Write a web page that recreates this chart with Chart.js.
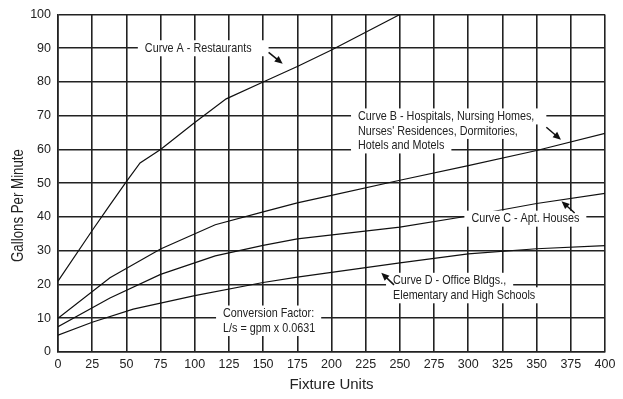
<!DOCTYPE html>
<html>
<head>
<meta charset="utf-8">
<script src="https://cdn.jsdelivr.net/npm/chart.js@4/dist/chart.umd.min.js"></script>
<style>
  html, body { margin: 0; padding: 0; background: #fff; }
</style>
</head>
<body>
<canvas id="chart" width="623" height="399"></canvas>
<script>
const FONT = '"Liberation Sans", Arial, sans-serif'
const NARROW = 0.83   // squeeze for the condensed look of the original lettering

// fixture units / gallons per minute
const curveAUnits = [0, 25, 37, 50, 60, 75, 100, 123, 150, 175, 200, 250]
const curveAGpm   = [21, 36, 43, 50.5, 56, 60, 68, 75, 80, 84.6, 89.5, 100]
const curveBUnits = [0, 38, 75, 115, 150, 175, 200, 250, 300, 350, 400]
const curveBGpm   = [10, 22, 30.5, 37.7, 41.5, 44.2, 46.4, 50.9, 55.2, 59.7, 64.8]
const curveCUnits = [0, 38, 75, 115, 150, 175, 250, 300, 350, 400]
const curveCGpm   = [7.5, 16, 23, 28.5, 31.6, 33.5, 37, 40.3, 44, 47]
const curveDUnits = [0, 25, 55, 100, 150, 175, 250, 300, 350, 400]
const curveDGpm   = [5, 8.8, 12.7, 16.7, 20.6, 22.2, 26.4, 29.1, 30.6, 31.5]

const xTickValues = [0, 25, 50, 75, 100, 125, 150, 175, 200, 225, 250, 275, 300, 325, 350, 375, 400]
const yTickValues = [0, 10, 20, 30, 40, 50, 60, 70, 80, 90, 100]

const yTitle = 'Gallons Per Minute'
const yTitleAt = 43.4   // gpm value at the middle of the title

// callout texts, anchored in data units (left edge, first line middle)
const noteTexts = [
    ['Curve A - Restaurants'],
    ['Curve B - Hospitals, Nursing Homes,', "Nurses' Residences, Dormitories,", 'Hotels and Motels'],
    ['Curve C - Apt. Houses'],
    ['Curve D - Office Bldgs.,', 'Elementary and High Schools'],
    ['Conversion Factor:', 'L/s = gpm x 0.0631']
]
const noteAt = [[63.5, 90], [219.4, 69.8], [302.3, 39.5], [245, 21.1], [120.7, 11.4]]
// arrows: [fromX, fromY, toX, toY] in data units, head at "to"
const noteArrows = [[154, 88.8, 164.3, 85.4], [357.1, 66.6, 367.8, 62.9], [377.8, 41.2, 368.2, 44.7], [245.7, 19.9, 236.4, 23.5], null]

function pts(xs, ys) {
    return xs.map((v, i) => ({ x: v, y: ys[i] }))
}

function curve(xs, ys) {
    return {
        data: pts(xs, ys),
        showLine: true,
        borderColor: '#111',
        borderWidth: 1.2,
        pointRadius: 0,
        tension: 0,
        fill: false
    }
}

const notesPlugin = {
    id: 'notes',
    afterDraw(chart) {
        const { ctx, scales } = chart
        const gap = 14.5
        ctx.save()
        ctx.font = '13px ' + FONT
        ctx.textBaseline = 'middle'
        // white boxes first so they never cover text
        noteTexts.forEach((lines, n) => {
            const px = scales.x.getPixelForValue(noteAt[n][0])
            const py = scales.y.getPixelForValue(noteAt[n][1])
            const a = noteArrows[n]
            lines.forEach((t, i) => {
                let right = px + ctx.measureText(t).width * NARROW + 7
                // first line box runs up to the arrow tail
                if (i === 0 && a) right = Math.max(right, Math.min(scales.x.getPixelForValue(a[0]), right + 20))
                ctx.fillStyle = '#fff'
                ctx.fillRect(px - 7, py + i * gap - 8, right - px + 7, 16)
            })
        })
        noteTexts.forEach((lines, n) => {
            const px = scales.x.getPixelForValue(noteAt[n][0])
            const py = scales.y.getPixelForValue(noteAt[n][1])
            ctx.fillStyle = '#222'
            lines.forEach((t, i) => {
                ctx.save()
                ctx.translate(px, py + i * gap)
                ctx.scale(NARROW, 1)
                ctx.fillText(t, 0, 0)
                ctx.restore()
            })
            const a = noteArrows[n]
            if (!a) return
            const x1 = scales.x.getPixelForValue(a[0]), y1 = scales.y.getPixelForValue(a[1])
            const x2 = scales.x.getPixelForValue(a[2]), y2 = scales.y.getPixelForValue(a[3])
            const ang = Math.atan2(y2 - y1, x2 - x1)
            const c = Math.cos(ang), s = Math.sin(ang)
            ctx.strokeStyle = '#111'
            ctx.lineWidth = 1.5
            ctx.beginPath()
            ctx.moveTo(x1, y1)
            ctx.lineTo(x2 - 5 * c, y2 - 5 * s)
            ctx.stroke()
            ctx.fillStyle = '#111'
            ctx.beginPath()
            ctx.moveTo(x2, y2)
            ctx.lineTo(x2 - 8 * c + 3.5 * s, y2 - 8 * s - 3.5 * c)
            ctx.lineTo(x2 - 8 * c - 3.5 * s, y2 - 8 * s + 3.5 * c)
            ctx.closePath()
            ctx.fill()
        })

        // y axis title, rotated
        ctx.save()
        ctx.font = '16px ' + FONT
        ctx.textAlign = 'center'
        ctx.translate(19, scales.y.getPixelForValue(yTitleAt))
        ctx.rotate(-Math.PI / 2)
        ctx.scale(NARROW, 1)
        ctx.fillStyle = '#222'
        ctx.fillText(yTitle, 0, 0)
        ctx.restore()

        ctx.restore()
    }
}

const chart = new Chart(document.getElementById('chart').getContext('2d'), {
    type: 'scatter',
    data: {
        datasets: [
            curve(curveAUnits, curveAGpm),
            curve(curveBUnits, curveBGpm),
            curve(curveCUnits, curveCGpm),
            curve(curveDUnits, curveDGpm)
        ]
    },
    options: {
        responsive: false,
        animation: false,
        devicePixelRatio: 1,
        layout: { padding: { top: 7, right: 18, left: 0, bottom: 0 } },
        plugins: {
            legend: { display: false },
            tooltip: { enabled: false }
        },
        scales: {
            x: {
                type: 'linear',
                min: 0,
                max: 400,
                afterBuildTicks: s => { s.ticks = xTickValues.map(v => ({ value: v })) },
                afterFit: s => { s.height = 47 },
                grid: { color: '#222', lineWidth: 1.6, drawTicks: false },
                border: { color: '#222', width: 1.6 },
                ticks: { color: '#222', padding: 5, font: { family: FONT, size: 12.5 } },
                title: {
                    display: true,
                    text: 'Fixture Units',
                    color: '#222',
                    padding: { top: 5, bottom: 5 },
                    font: { family: FONT, size: 15 }
                }
            },
            y: {
                min: 0,
                max: 100,
                afterBuildTicks: s => { s.ticks = yTickValues.map(v => ({ value: v })) },
                afterFit: s => { s.width = 58 },
                grid: { color: '#222', lineWidth: 1.6, drawTicks: false },
                border: { color: '#222', width: 1.6 },
                ticks: { color: '#222', padding: 7, font: { family: FONT, size: 12.5 } }
            }
        }
    },
    plugins: [notesPlugin]
})
</script>
</body>
</html>
